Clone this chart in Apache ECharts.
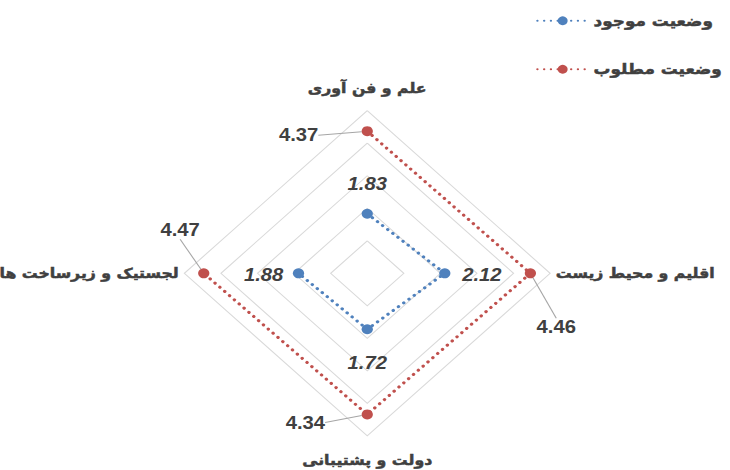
<!DOCTYPE html>
<html>
<head>
<meta charset="utf-8">
<script src="https://cdn.jsdelivr.net/npm/echarts@6/dist/echarts.min.js"></script>
<style>
html,body{margin:0;padding:0;background:#fff;overflow:hidden;width:730px;height:470px}
#wrap{width:730px;height:470px;overflow:hidden;position:relative}
#chart{width:649px;height:470px;transform:scaleX(1.12481);transform-origin:0 0}
</style>
</head>
<body>
<div id="wrap"><div id="chart"></div></div>
<script>
// ---- data ----
const categories = ['علم و فن آوری', 'اقلیم و محیط زیست', 'دولت و پشتیبانی', 'لجستیک و زیرساخت ها'];
const currentValues = [1.83, 2.12, 1.72, 1.88];
const desiredValues = [4.37, 4.46, 4.34, 4.47];
const seriesNames = ['وضعیت موجود', 'وضعیت مطلوب'];
const axisMax = 5;
const ringCount = 5;

// ---- styles / layout ----
const CX = 326.5, CY = 273.3, R = 162.6;
const FONT_AR = "'DejaVu Sans', sans-serif";
const FONT_NUM = "'Liberation Sans', Arial, sans-serif";
const TEXT = '#404040';
const BLUE = '#4F81BD', RED = '#C0504D';
const blueLabelOffsets = [[0, -30], [33, 2], [0, 34], [-31, 2]];
const redLabelShift = [[-61, 4], [23, 54], [-55, 8], [-21, -43]];
const catPadding = [[0, 0, 10, 0], [0, 0, 0, 0], [12, 0, 0, 0], [0, 0, 0, 0]];

function buildData(values, extra) {
  const d = values.map(function (v, i) {
    return Object.assign({ value: [v, i] }, extra ? extra(i) : {});
  });
  d.push({ value: [values[0], 0], symbol: 'none', label: { show: false }, labelLine: { show: false } });
  return d;
}

const chart = echarts.init(document.getElementById('chart'), null, { renderer: 'svg' });

const dotted = function (color) {
  return { color: color, width: 3, type: [0.1, 5.9], cap: 'round' };
};

const arText = {
  color: TEXT,
  fontFamily: FONT_AR,
  fontWeight: 'bold',
  fontSize: 14,
  textBorderColor: TEXT,
  textBorderWidth: 0.5
};

chart.setOption({
  animation: false,
  backgroundColor: '#ffffff',
  legend: {
    orient: 'vertical',
    right: 2,
    top: 8,
    align: 'left',
    itemWidth: 45,
    itemHeight: 11,
    itemGap: 33,
    textStyle: Object.assign({}, arText, { fontSize: 15 }),
    data: seriesNames
  },
  radar: {
    center: [CX, CY],
    radius: R,
    startAngle: 90,
    shape: 'polygon',
    splitNumber: ringCount,
    indicator: categories.map(function () { return { name: '', max: axisMax, min: 0 }; }),
    axisName: { show: false },
    axisLine: { show: false },
    axisTick: { show: false },
    axisLabel: { show: false },
    splitArea: { show: false },
    splitLine: { lineStyle: { color: '#d9d9d9', width: 1 } },
    silent: true
  },
  polar: { center: [CX, CY], radius: R },
  radiusAxis: { type: 'value', min: 0, max: axisMax, show: false },
  angleAxis: {
    type: 'category',
    boundaryGap: false,
    startAngle: 90,
    clockwise: true,
    data: categories.map(function (c, i) {
      return { value: c, textStyle: { padding: catPadding[i] } };
    }),
    axisLine: { show: false },
    axisTick: { show: false },
    splitLine: { show: false },
    axisLabel: Object.assign({ margin: 5 }, arText)
  },
  series: [
    {
      name: seriesNames[0],
      type: 'line',
      coordinateSystem: 'polar',
      symbol: 'circle',
      symbolSize: 10,
      itemStyle: { color: BLUE },
      lineStyle: dotted(BLUE),
      label: {
        show: true,
        position: 'inside',
        color: TEXT,
        fontFamily: FONT_NUM,
        fontWeight: 'bold',
        fontStyle: 'italic',
        fontSize: 18,
        formatter: function (p) { return p.value[0].toFixed(2); }
      },
      data: buildData(currentValues, function (i) {
        return { label: { offset: blueLabelOffsets[i] } };
      }),
      z: 3
    },
    {
      name: seriesNames[1],
      type: 'line',
      coordinateSystem: 'polar',
      symbol: 'circle',
      symbolSize: 10,
      itemStyle: { color: RED },
      lineStyle: dotted(RED),
      label: {
        show: true,
        position: 'inside',
        color: TEXT,
        fontFamily: FONT_NUM,
        fontWeight: 'bold',
        fontSize: 18,
        formatter: function (p) { return p.value[0].toFixed(2); }
      },
      labelLine: { show: true, lineStyle: { color: '#a6a6a6', width: 1 } },
      labelLayout: function (p) {
        const s = redLabelShift[p.dataIndex];
        return s ? { dx: s[0], dy: s[1] } : {};
      },
      data: buildData(desiredValues),
      z: 4
    }
  ]
});
</script>
</body>
</html>
